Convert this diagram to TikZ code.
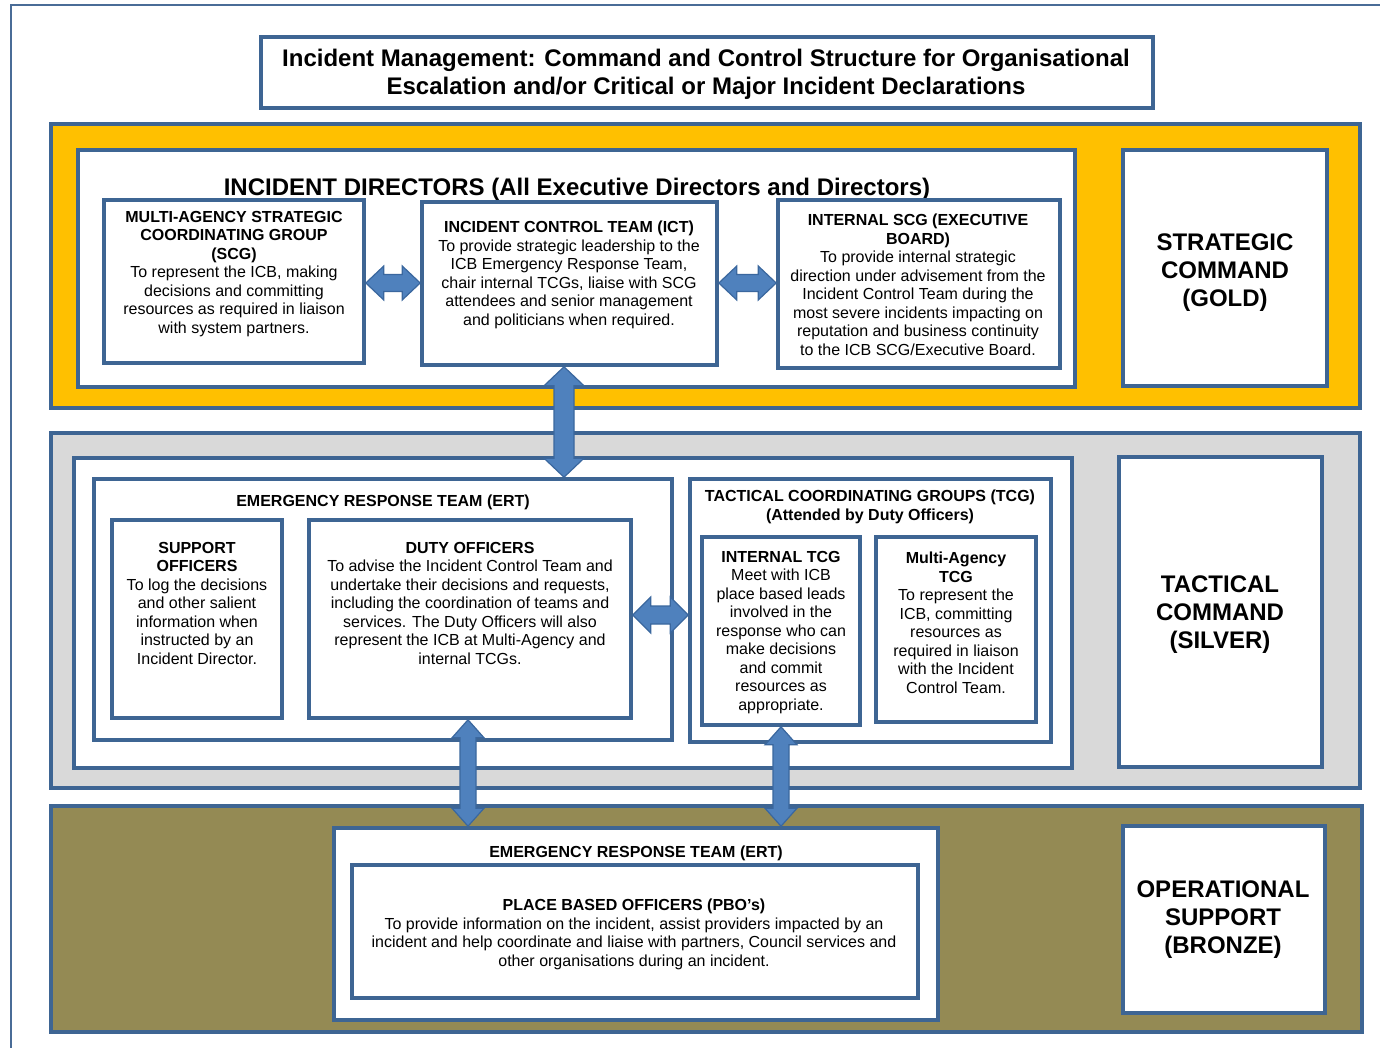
\documentclass[tikz,border=0pt]{standalone}
\usepackage{fontspec}
\setmainfont{Liberation Sans}
\usetikzlibrary{fit,calc}
\definecolor{bord}{HTML}{3E6593}
\definecolor{frameline}{HTML}{4A6C97}
\definecolor{goldband}{HTML}{FFC000}
\definecolor{silverband}{HTML}{D9D9D9}
\definecolor{bronzeband}{HTML}{948A54}
\definecolor{arrfill}{HTML}{4F81BD}
\definecolor{arrline}{HTML}{3A679E}
\newcommand\vblockarrow[5]{%
  \draw[arr] let \p1=#1, \p2=#2 in
    (\x1,\y1) -- (\x1+#3pt,\y1-#5pt) -- (\x1+#4pt,\y1-#5pt) -- (\x1+#4pt,\y2+#5pt)
    -- (\x1+#3pt,\y2+#5pt) -- (\x1,\y2) -- (\x1-#3pt,\y2+#5pt) -- (\x1-#4pt,\y2+#5pt)
    -- (\x1-#4pt,\y1-#5pt) -- (\x1-#3pt,\y1-#5pt) -- cycle;}
\newcommand\hblockarrow[5]{%
  \draw[arr] let \p1=#1, \p2=#2 in
    (\x1,\y1) -- (\x1+#5pt,\y1+#3pt) -- (\x1+#5pt,\y1+#4pt) -- (\x2-#5pt,\y1+#4pt)
    -- (\x2-#5pt,\y1+#3pt) -- (\x2,\y1) -- (\x2-#5pt,\y1-#3pt) -- (\x2-#5pt,\y1-#4pt)
    -- (\x1+#5pt,\y1-#4pt) -- (\x1+#5pt,\y1-#3pt) -- cycle;}
\begin{document}
\begin{tikzpicture}[x=1pt,y=-1pt,
  box/.style={draw=bord, line width=3.6pt, inner sep=0pt, fill=white},
  band/.style={draw=bord, line width=3.6pt, inner sep=0pt},
  txt/.style={inner sep=0pt, align=center, anchor=north, font=\fontsize{16}{18.5}\selectfont},
  big/.style={inner sep=0pt, align=center, anchor=north, font=\fontsize{24}{27.6}\selectfont\bfseries},
  arr/.style={fill=arrfill, draw=arrline, line width=1.2pt, line join=miter}]
\useasboundingbox[fill=white] (0,0) rectangle (1380,1048);
% outer frame
\draw[frameline, line width=2.4pt] (11,1048) -- (11,5) -- (1380,5);
% title
\node[box, fit={(261,37) (1153,108)}] (title) {};
\node[big] (titleT) at (706,49) {Incident Management: Command and Control Structure for Organisational\\Escalation and/or Critical or Major Incident Declarations};
% ---------- GOLD ----------
\node[band, fill=goldband, fit={(51,124) (1360,408)}] (gold) {};
\node[box, fit={(78,150) (1075,387)}] (dirs) {};
\node[big] (dirsT) at (577,178) {INCIDENT DIRECTORS (All Executive Directors and Directors)};
\node[box, fit={(104,200) (364,363)}] (scg) {};
\node[txt] (scgT) at (234,211) {\textbf{MULTI-AGENCY STRATEGIC}\\\textbf{COORDINATING GROUP}\\\textbf{(SCG)}\\To represent the ICB, making\\decisions and committing\\resources as required in liaison\\with system partners.};
\node[box, fit={(422,202) (717,365)}] (ict) {};
\node[txt] (ictT) at (569,221) {\textbf{INCIDENT CONTROL TEAM (ICT)}\\To provide strategic leadership to the\\ICB Emergency Response Team,\\chair internal TCGs, liaise with SCG\\attendees and senior management\\and politicians when required.};
\node[box, fit={(778,200) (1060,368)}] (iscg) {};
\node[txt] (iscgT) at (918,214) {\textbf{INTERNAL SCG (EXECUTIVE}\\\textbf{BOARD)}\\To provide internal strategic\\direction under advisement from the\\Incident Control Team during the\\most severe incidents impacting on\\reputation and business continuity\\to the ICB SCG/Executive Board.};
\node[box, fit={(1123,150) (1327,386)}] (gold2) {};
\node[big] (goldT) at (1225,234) {STRATEGIC\\COMMAND\\(GOLD)};
% ---------- SILVER ----------
\node[band, fill=silverband, fit={(51,433) (1360,788)}] (silver) {};
\node[box, fit={(74,458) (1072,768)}] (tact) {};
\node[box, fit={(94,479) (672,740)}] (ert) {};
\node[txt] (ertT) at (383,495) {\textbf{EMERGENCY RESPONSE TEAM (ERT)}};
\node[box, fit={(112,520) (282,718)}] (supp) {};
\node[txt] (suppT) at (197,542) {\textbf{SUPPORT}\\\textbf{OFFICERS}\\To log the decisions\\and other salient\\information when\\instructed by an\\Incident Director.};
\node[box, fit={(309,520) (631,718)}] (duty) {};
\node[txt] (dutyT) at (470,542) {\textbf{DUTY OFFICERS}\\To advise the Incident Control Team and\\undertake their decisions and requests,\\including the coordination of teams and\\services. The Duty Officers will also\\represent the ICB at Multi-Agency and\\internal TCGs.};
\node[box, fit={(690,479) (1051,742)}] (tcg) {};
\node[txt] (tcgT) at (870,490) {\textbf{TACTICAL COORDINATING GROUPS (TCG)}\\\textbf{(Attended by Duty Officers)}};
\node[box, fit={(702,537) (860,725)}] (itcg) {};
\node[txt] (itcgT) at (781,551) {\textbf{INTERNAL TCG}\\Meet with ICB\\place based leads\\involved in the\\response who can\\make decisions\\and commit\\resources as\\appropriate.};
\node[box, fit={(876,537) (1036,722)}] (matcg) {};
\node[txt] (matcgT) at (956,552) {\textbf{Multi-Agency}\\\textbf{TCG}\\To represent the\\ICB, committing\\resources as\\required in liaison\\with the Incident\\Control Team.};
\node[box, fit={(1119,457) (1322,767)}] (silver2) {};
\node[big] (silverT) at (1220,576) {TACTICAL\\COMMAND\\(SILVER)};
% ---------- BRONZE ----------
\node[band, fill=bronzeband, fit={(51,806) (1362,1032)}] (bronze) {};
\node[box, fit={(334,828) (938,1020)}] (ertB) {};
\node[txt] (ertBT) at (636,846) {\textbf{EMERGENCY RESPONSE TEAM (ERT)}};
\node[box, fit={(352,865) (918,998)}] (pbo) {};
\node[txt] (pboT) at (634,899) {\textbf{PLACE BASED OFFICERS (PBO’s)}\\To provide information on the incident, assist providers impacted by an\\incident and help coordinate and liaise with partners, Council services and\\other organisations during an incident.};
\node[box, fit={(1123,826) (1325,1013)}] (bronze2) {};
\node[big] (bronzeT) at (1223,881) {OPERATIONAL\\SUPPORT\\(BRONZE)};
% ---------- ARROWS ----------
\coordinate (h1) at (0,283);
\coordinate (h3) at (0,615);
\coordinate (v1) at (564,0);
\coordinate (v2) at (468,0);
\coordinate (v3) at (781,0);
\hblockarrow{(scg.east |- h1)}{(ict.west |- h1)}{17}{8.5}{18}
\hblockarrow{(ict.east |- h1)}{(iscg.west |- h1)}{17}{8.5}{18}
\hblockarrow{(duty.east |- h3)}{(tcg.west |- h3)}{18}{9}{18}
\vblockarrow{(ict.south -| v1)}{(ert.north -| v1)}{20}{10}{19}
\vblockarrow{(duty.south -| v2)}{(ertB.north -| v2)}{16}{8}{18}
\vblockarrow{(itcg.south -| v3)}{(ertB.north -| v3)}{16}{8}{18}
\end{tikzpicture}
\end{document}
